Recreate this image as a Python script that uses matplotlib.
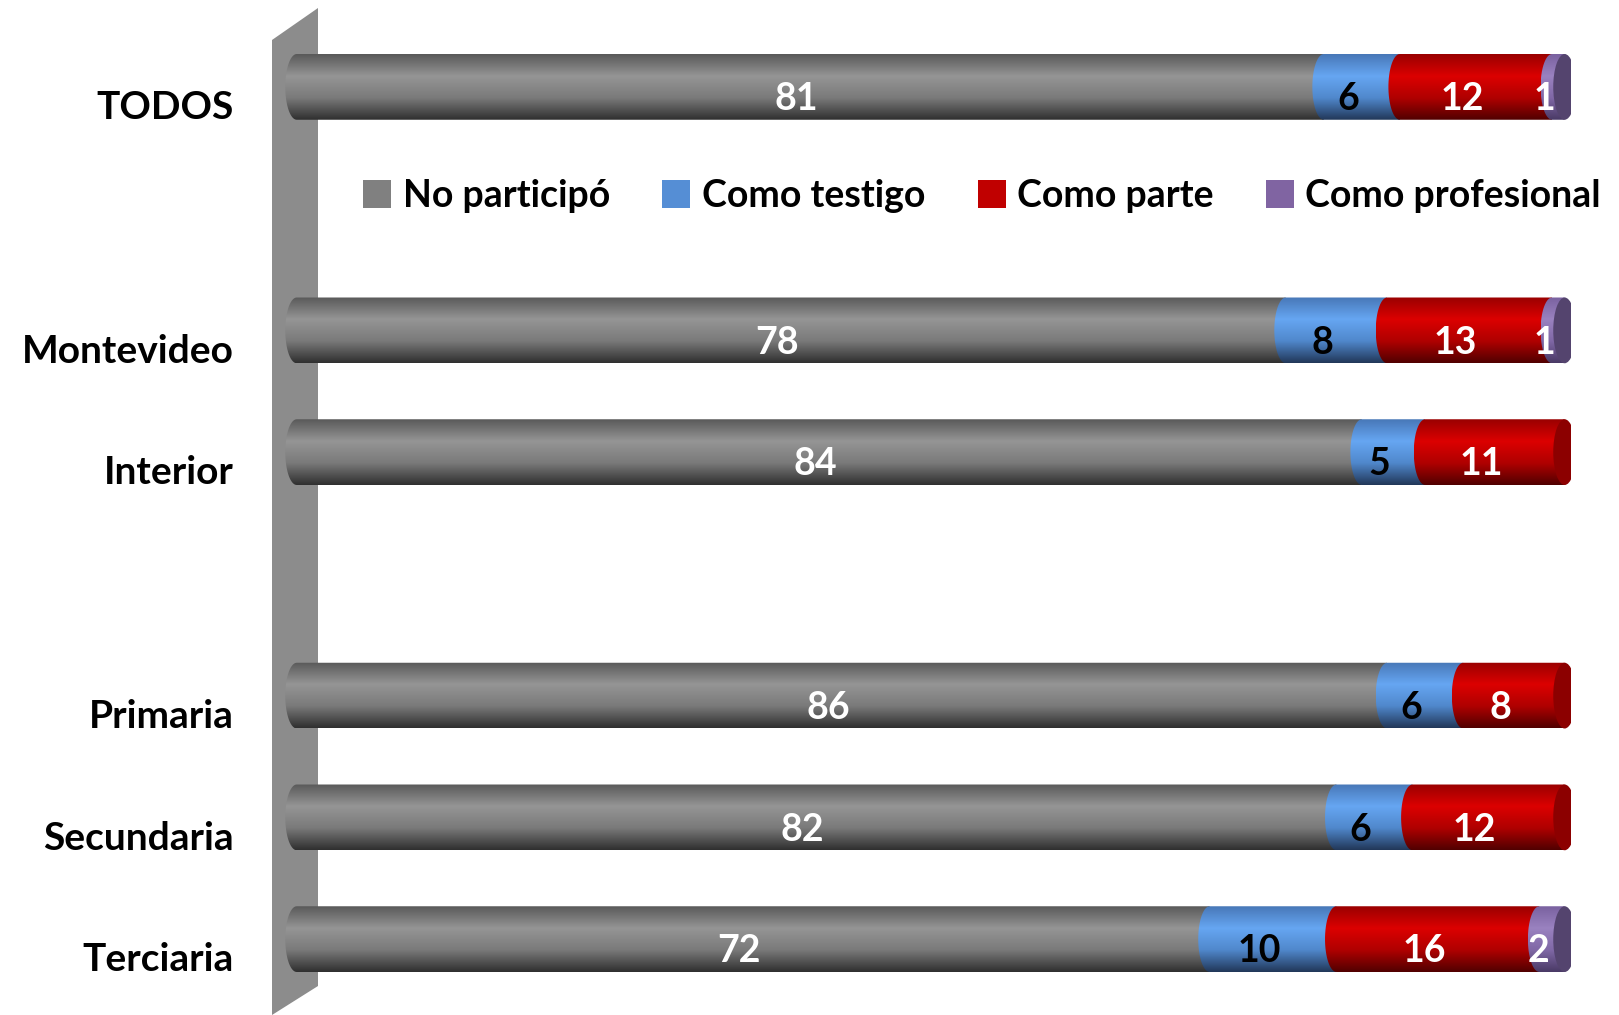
import numpy as np
import matplotlib.pyplot as plt
from matplotlib.colors import LinearSegmentedColormap
from matplotlib.patches import Patch, Polygon, Ellipse, PathPatch
from matplotlib.path import Path

plt.rcParams['font.family'] = ['Lato', 'DejaVu Sans']
plt.rcParams['font.weight'] = 'bold'

# rows top to bottom; empty strings are spacer slots
categories = ['TODOS', '', 'Montevideo', 'Interior', '', 'Primaria', 'Secundaria', 'Terciaria']
no_participo = [81, 0, 78, 84, 0, 86, 82, 72]
testigo = [6, 0, 8, 5, 0, 6, 6, 10]
parte = [12, 0, 13, 11, 0, 8, 12, 16]
profesional = [1, 0, 1, 0, 0, 0, 0, 2]

series = [no_participo, testigo, parte, profesional]
names = ['No participó', 'Como testigo', 'Como parte', 'Como profesional']
legend_colors = ['#808080', '#558ed5', '#c00000', '#8064a2']
# (edge dark, highlight, lower, bottom dark) for cylinder shading
shades = [
    ['#5a5a5a', '#959595', '#7a7a7a', '#303030'],
    ['#4878b8', '#66a6f2', '#5088cc', '#22385a'],
    ['#9a0000', '#dc0000', '#b00000', '#520000'],
    ['#7a62a0', '#9a82c0', '#8068a6', '#4a3a66'],
]
cap_colors = ['#5a5a5a', '#3c5f8f', '#8c0000', '#54446e']
text_colors = ['white', 'black', 'white', 'white']

W, H = 1619, 1015
fig = plt.figure(figsize=(W / 100, H / 100), dpi=100)

# side wall
wall = Polygon([(272 / W, 1 - 40 / H), (318 / W, 1 - 8 / H),
                (318 / W, 1 - 986 / H), (272 / W, 1 - 1015 / H)],
               closed=True, transform=fig.transFigure, facecolor='#8c8c8c',
               edgecolor='none', zorder=0)
fig.add_artist(wall)

ax = fig.add_axes([284 / W, 1 - 1000 / H, (1571 - 284) / W, (1000 - 26) / H])
ax.set_xlim(-1, 100.5)
ax.set_ylim(len(categories) - 0.5, -0.5)
ax.axis('off')
ax.patch.set_alpha(0)

bh = 0.54
a = 0.9  # half-width of the elliptical ends in data units

def segment_path(x0, x1, yc):
    yt, yb = yc - bh / 2, yc + bh / 2
    t = np.linspace(np.pi / 2, 3 * np.pi / 2, 30)
    arc = np.column_stack([x0 + a * np.cos(t), yc - (bh / 2) * np.sin(t)])
    verts = [(x1, yb), (x1, yt)] + [tuple(p) for p in arc] + [(x1, yb)]
    return Path(verts, closed=True)

for i, cat in enumerate(categories):
    left = 0.0
    vals = [s[i] for s in series]
    total = sum(vals)
    if total == 0:
        continue
    last = max(k for k, v in enumerate(vals) if v > 0)
    for k, v in enumerate(vals):
        if v == 0:
            continue
        x0, x1 = left, left + v
        cmap = LinearSegmentedColormap.from_list('c', shades[k])
        grad = np.linspace(0, 1, 100).reshape(-1, 1)
        im = ax.imshow(grad, cmap=cmap, aspect='auto',
                       extent=[x0 - a, x1, i + bh / 2, i - bh / 2],
                       zorder=2 + k * 0.1, interpolation='bilinear')
        clip = PathPatch(segment_path(x0, x1, i), transform=ax.transData,
                         facecolor='none', edgecolor='none')
        ax.add_patch(clip)
        im.set_clip_path(clip)
        if k == last:
            ax.add_patch(Ellipse((x1, i), 2 * a, bh, facecolor=cap_colors[k],
                                 edgecolor='none', zorder=3))
        ax.text((x0 + x1) / 2 - 1.1, i + 0.1, str(v), ha='center', va='center',
                color=text_colors[k], fontsize=27, fontweight='bold', zorder=4)
        left = x1
    ax.text(-5.0, i + 0.17, cat, ha='right', va='center', fontsize=28,
            fontweight='bold', color='black', transform=ax.transData, clip_on=False)

handles = [Patch(facecolor=c, edgecolor='none') for c in legend_colors]
fig.legend(handles, names, loc='center', bbox_to_anchor=(982 / W, 1 - 196 / H),
           ncol=4, frameon=False, fontsize=27, handlelength=0.75, handleheight=0.75,
           handletextpad=0.3, columnspacing=1.4)

fig.savefig('out.png', dpi=100)
